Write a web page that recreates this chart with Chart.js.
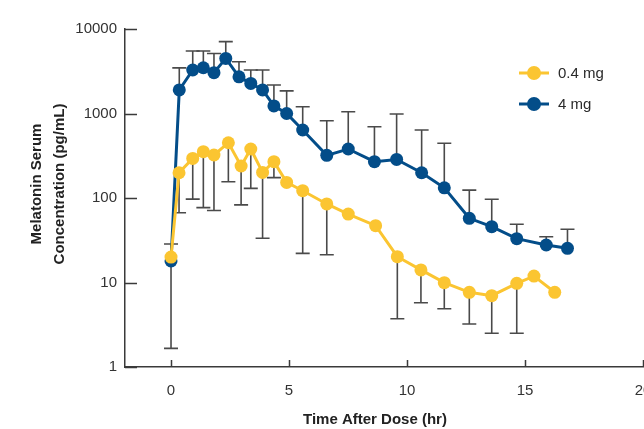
<!DOCTYPE html>
<html>
<head>
<meta charset="utf-8">
<script src="https://cdn.jsdelivr.net/npm/chart.js@4.4.1/dist/chart.umd.min.js"></script>
<style>
  html, body { margin: 0; padding: 0; background: #fff; overflow: hidden; }
  #wrap { width: 680px; height: 429px; }
</style>
</head>
<body>
<div id="wrap"><canvas id="melatonin-chart"></canvas></div>
<script>
// 0.4 mg dose
const timeLow = [0, 0.34, 0.92, 1.37, 1.82, 2.43, 2.97, 3.38, 3.88, 4.36, 4.9, 5.58, 6.6, 7.51, 8.67, 9.59, 10.59, 11.58, 12.64, 13.59, 14.65, 15.38, 16.26];
const concLow = [20, 199, 294, 353, 323, 451, 239, 380, 201, 269, 153, 122, 85, 64.6, 47, 20.2, 14.1, 9.95, 7.66, 6.98, 9.78, 11.9, 7.66];
const errLow = [1.66, 67, 97, 77, 71, 156, 83, 130, 33.4, 174, null, 22.1, 21.3, null, null, 3.73, 5.77, 4.9, 3.23, 2.51, 2.51, null, null];

// 4 mg dose
const timeHigh = [0, 0.35, 0.92, 1.37, 1.82, 2.32, 2.88, 3.38, 3.88, 4.36, 4.9, 5.58, 6.6, 7.51, 8.62, 9.56, 10.62, 11.58, 12.64, 13.59, 14.65, 15.9, 16.8];
const concHigh = [18, 1900, 3270, 3480, 3040, 4490, 2720, 2270, 1900, 1230, 1000, 638, 320, 380, 269, 286, 199, 132, 57.5, 45.8, 33, 27.8, 25.4];
const errHigh = [28.6, 3470, 5480, 5480, 5130, 7080, 4100, 3270, 3270, 2170, 1850, 1200, 822, 1050, 698, 986, 638, 444, 124, 96.6, 48.9, 34.8, 42.6];

const seriesLabels = ['0.4 mg', '4 mg'];
const xTickValues = [0, 5, 10, 15, 20];
const yTickValues = [1, 10, 100, 1000, 10000];
const xTitle = 'Time After Dose (hr)';
const yTitle = ['Melatonin Serum', 'Concentration (pg/mL)'];

const YELLOW = '#fbc531';
const BLUE = '#034d89';
const INK = '#3a3a3a';
const FONT = "'Liberation Sans', Arial, sans-serif";

const toPoints = (xs, ys) => xs.map((x, i) => ({ x: x, y: ys[i] }));

// error bars, drawn under the points
const errorBars = {
  id: 'errorBars',
  beforeDatasetsDraw(chart) {
    const { ctx, scales: { x, y } } = chart;
    const errs = [errLow, errHigh];
    ctx.save();
    ctx.strokeStyle = '#4a4a4a';
    ctx.lineWidth = 1.6;
    chart.data.datasets.forEach((ds, i) => {
      ds.data.forEach((p, j) => {
        const e = errs[i][j];
        if (e == null) return;
        const px = x.getPixelForValue(p.x);
        const py = y.getPixelForValue(p.y);
        const pe = y.getPixelForValue(e);
        ctx.beginPath();
        ctx.moveTo(px, py);
        ctx.lineTo(px, pe);
        ctx.moveTo(px - 7, pe);
        ctx.lineTo(px + 7, pe);
        ctx.stroke();
      });
    });
    ctx.restore();
  },
};

// inward tick marks, axis titles, legend
const decorations = {
  id: 'decorations',
  afterDraw(chart) {
    const { ctx, chartArea: area, scales: { x, y } } = chart;
    ctx.save();
    ctx.strokeStyle = INK;
    ctx.lineWidth = 1.5;
    ctx.beginPath();
    yTickValues.forEach((v) => {
      const py = Math.round(y.getPixelForValue(v)) + 0.5;
      ctx.moveTo(area.left, py);
      ctx.lineTo(area.left + 12, py);
    });
    xTickValues.forEach((v) => {
      const px = Math.round(x.getPixelForValue(v)) + 0.5;
      ctx.moveTo(px, area.bottom);
      ctx.lineTo(px, area.bottom - 7);
    });
    ctx.stroke();

    ctx.fillStyle = '#222';
    ctx.font = 'bold 15px ' + FONT;
    ctx.textAlign = 'center';
    ctx.textBaseline = 'middle';
    ctx.fillText(xTitle, 375, 420);

    ctx.save();
    ctx.translate(37, 184);
    ctx.rotate(-Math.PI / 2);
    yTitle.forEach((line, i) => ctx.fillText(line, 0, i * 23));
    ctx.restore();

    // legend
    ctx.font = '15px ' + FONT;
    ctx.textAlign = 'left';
    chart.data.datasets.forEach((ds, i) => {
      const lx = 519;
      const ly = 73 + i * 31;
      ctx.strokeStyle = ds.borderColor;
      ctx.lineWidth = 3;
      ctx.beginPath();
      ctx.moveTo(lx, ly);
      ctx.lineTo(lx + 30, ly);
      ctx.stroke();
      ctx.fillStyle = ds.backgroundColor;
      ctx.beginPath();
      ctx.arc(lx + 15, ly, 7, 0, Math.PI * 2);
      ctx.fill();
      ctx.fillStyle = '#2a2a2a';
      ctx.fillText(ds.label, lx + 39, ly + 1);
    });
    ctx.restore();
  },
};

const makeSeries = (label, color, data) => ({
  label: label,
  data: data,
  borderColor: color,
  backgroundColor: color,
  pointBackgroundColor: color,
  pointBorderColor: color,
  borderWidth: 3,
  pointRadius: 6.5,
  pointBorderWidth: 0,
  pointHoverRadius: 6.5,
  tension: 0,
  clip: false,
});

new Chart(document.getElementById('melatonin-chart'), {
  type: 'line',
  data: {
    datasets: [
      makeSeries(seriesLabels[0], YELLOW, toPoints(timeLow, concLow)),
      makeSeries(seriesLabels[1], BLUE, toPoints(timeHigh, concHigh)),
    ],
  },
  options: {
    responsive: true,
    maintainAspectRatio: false,
    animation: false,
    layout: {
      padding: { top: 29, right: 37, left: 0, bottom: 0 },
    },
    plugins: {
      legend: { display: false },
      tooltip: { enabled: false },
    },
    scales: {
      x: {
        type: 'linear',
        min: -1.95,
        max: 20,
        afterBuildTicks: (scale) => {
          scale.ticks = xTickValues.map((v) => ({ value: v }));
        },
        afterFit: (scale) => {
          scale.height = 62;
        },
        grid: { display: true, drawOnChartArea: false, drawTicks: false },
        border: { display: true, color: INK, width: 1.5 },
        ticks: {
          padding: 15,
          color: '#333',
          font: { family: FONT, size: 15 },
          maxRotation: 0,
        },
      },
      y: {
        type: 'logarithmic',
        min: 1,
        max: 10000,
        afterBuildTicks: (scale) => {
          scale.ticks = yTickValues.map((v) => ({ value: v }));
        },
        afterFit: (scale) => {
          scale.width = 125;
        },
        grid: { display: true, drawOnChartArea: false, drawTicks: false },
        border: { display: true, color: INK, width: 1.5 },
        ticks: {
          padding: 8,
          color: '#333',
          font: { family: FONT, size: 15 },
          callback: (v) => String(v),
        },
      },
    },
  },
  plugins: [errorBars, decorations],
});
</script>
</body>
</html>
